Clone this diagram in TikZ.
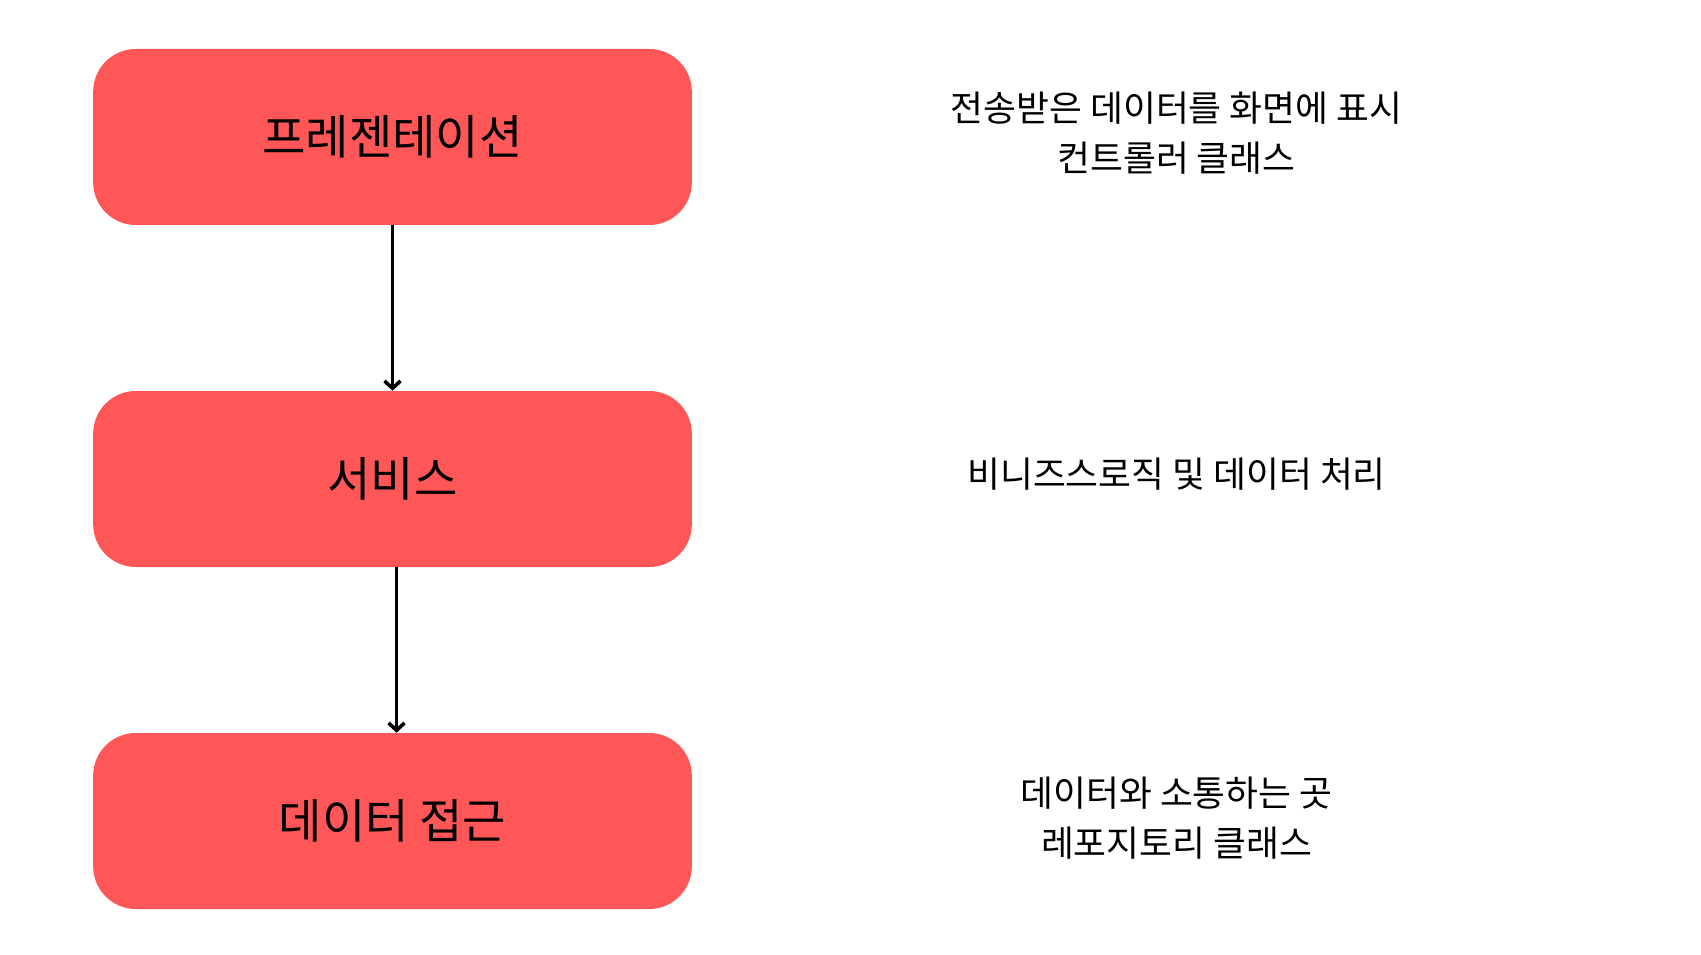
\documentclass[tikz,border=0pt]{standalone}
\usepackage{fontspec}
\newfontfamily\krfont{Noto Sans CJK KR}
\usetikzlibrary{positioning,arrows.meta}
\definecolor{layerred}{HTML}{FF5757}

\begin{document}
\begin{tikzpicture}[
    x=0.75pt,
    y=-0.75pt,
    node distance=256.5pt,
    on grid,
    layer/.style={
        fill=layerred,
        rounded corners=32pt,
        minimum width=449pt,
        minimum height=132pt,
        inner sep=0pt,
        font=\krfont\fontsize{35.4}{42}\selectfont
    },
    note/.style={
        align=center,
        font=\krfont\fontsize{26.8}{37.5}\selectfont
    },
    flow/.style={
        draw,
        line width=2.7pt,
        -{Straight Barb[length=5.5pt,width=12pt,line width=2.7pt]}
    }
]
    \useasboundingbox (0,0) rectangle (1701,955);

    % layers
    \node[layer] (pres) at (392.5,137) {프레젠테이션};
    \node[layer,below=of pres] (serv) {서비스};
    \node[layer,below=of serv] (data) {데이터 접근};

    % notes on the right
    \node[note,right=588pt of pres,yshift=3pt] (presnote) {전송받은 데이터를 화면에 표시\\컨트롤러 클래스};
    \node[note,right=588pt of serv,yshift=3.5pt] (servnote) {비니즈스로직 및 데이터 처리};
    \node[note,right=588pt of data,yshift=2.5pt] (datanote) {데이터와 소통하는 곳\\레포지토리 클래스};

    % arrows
    \draw[flow] (pres) -- (serv);
    \draw[flow] ([xshift=3pt]serv.south) -- ([xshift=3pt]data.north);
\end{tikzpicture}
\end{document}
